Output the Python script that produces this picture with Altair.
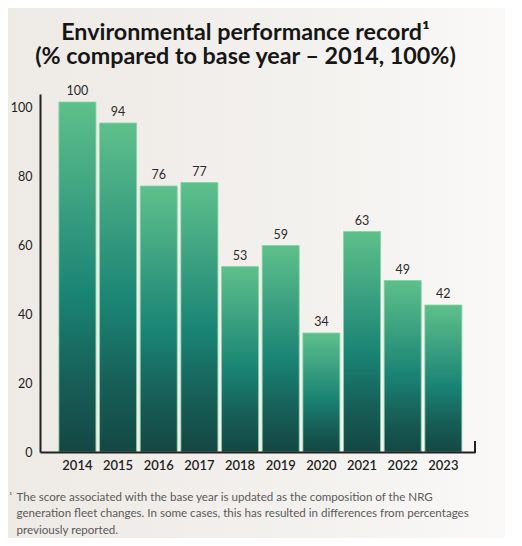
import altair as alt
import pandas as pd

years = ["2014", "2015", "2016", "2017", "2018", "2019", "2020", "2021", "2022", "2023"]
values = [100, 94, 76, 77, 53, 59, 34, 63, 49, 42]
y_ticks = [0, 20, 40, 60, 80, 100]
title_lines = ["Environmental performance record\u00b9", "(% compared to base year \u2013 2014, 100%)"]
footnote_lines = [
    "The score associated with the base year is updated as the composition of the NRG",
    "generation fleet changes. In some cases, this has resulted in differences from percentages",
    "previously reported.",
]

df = pd.DataFrame({"year": years, "value": values})
tick_df = pd.DataFrame({"tick": y_ticks})

W, H = 435, 358
FONT = "Lato"

xscale = alt.Scale(paddingInner=0.09, paddingOuter=0.394, align=0.59)
yscale = alt.Scale(domain=[0, 102.3], nice=False, zero=True)

bg = alt.Chart(pd.DataFrame({"a": [0]})).mark_rect(
    fill=alt.Gradient(
        gradient="linear", x1=0, x2=1, y1=0, y2=0,
        stops=[alt.GradientStop(color="#eeeae6", offset=0),
               alt.GradientStop(color="#f3f1ee", offset=0.6),
               alt.GradientStop(color="#faf9f8", offset=1)],
    )
).encode(
    x=alt.value(-32), x2=alt.value(W + 30), y=alt.value(-86), y2=alt.value(H + 86)
)

bars = alt.Chart(df).mark_bar(
    fill=alt.Gradient(
        gradient="linear", x1=0, x2=0, y1=0, y2=1,
        stops=[alt.GradientStop(color="#5dc08b", offset=0),
               alt.GradientStop(color="#3a9f80", offset=0.3),
               alt.GradientStop(color="#1a8474", offset=0.55),
               alt.GradientStop(color="#175e57", offset=0.8),
               alt.GradientStop(color="#144744", offset=1)],
    ),
    stroke="#86d2a4", strokeWidth=1, strokeOpacity=0.8,
).encode(
    x=alt.X("year:N", scale=xscale, sort=years,
            axis=alt.Axis(title=footnote_lines, labelAngle=0, labelFont=FONT, labelFontSize=13,
                          labelFontWeight=600, labelColor="#1e1e1e", labelPadding=7, ticks=False,
                          domainColor="#222", domainWidth=2, zindex=2,
                          titleFont=FONT, titleFontSize=11.6, titleFontWeight="normal",
                          titleColor="#5a5a5a", titleAlign="left", titleBaseline="top",
                          titleX=-24, titleY=39, titleLineHeight=16.5)),
    y=alt.Y("value:Q", scale=yscale, axis=None),
)

labels = alt.Chart(df).mark_text(
    baseline="bottom", dy=-4, font=FONT, fontSize=12.5, color="#2a2a2a"
).encode(
    x=alt.X("year:N", scale=xscale, sort=years),
    y=alt.Y("value:Q", scale=yscale, axis=None),
    text=alt.Text("value:Q"),
)

right_tick = alt.Chart(pd.DataFrame({"a": [0]})).mark_rule(color="#222", strokeWidth=2).encode(
    x=alt.value(W), y=alt.value(H - 11), y2=alt.value(H + 1)
)

axis_layer = alt.Chart(tick_df).mark_point(opacity=0).encode(
    y=alt.Y("tick:Q", scale=alt.Scale(domain=[0, 104], nice=False),
            axis=alt.Axis(orient="left", values=y_ticks, ticks=False, grid=False,
                          labelFont=FONT, labelFontSize=12.5, labelColor="#1e1e1e",
                          labelPadding=8, domainColor="#222", domainWidth=2, zindex=2,
                          title="\u00b9", titleAngle=0, titleFont=FONT, titleFontSize=7,
                          titleColor="#5a5a5a", titleX=-31, titleY=H + 39,
                          titleAlign="left", titleBaseline="top")),
)

chart = alt.layer(bg, bars, labels, right_tick, axis_layer).resolve_scale(
    y="independent"
).properties(
    width=W, height=H,
    autosize=alt.AutoSizeParams(type="none"),
    padding={"left": 32, "top": 86, "right": 39, "bottom": 86},
    background="#ffffff",
    title=alt.TitleParams(text=title_lines, font=FONT, fontSize=23.3, fontWeight="bold",
                          color="#161616", anchor="middle", dx=-12, offset=-61,
                          frame="group", lineHeight=24, zindex=2),
).configure_view(stroke=None)

chart.save("out.html", embed_options={"renderer": "svg", "actions": False})
